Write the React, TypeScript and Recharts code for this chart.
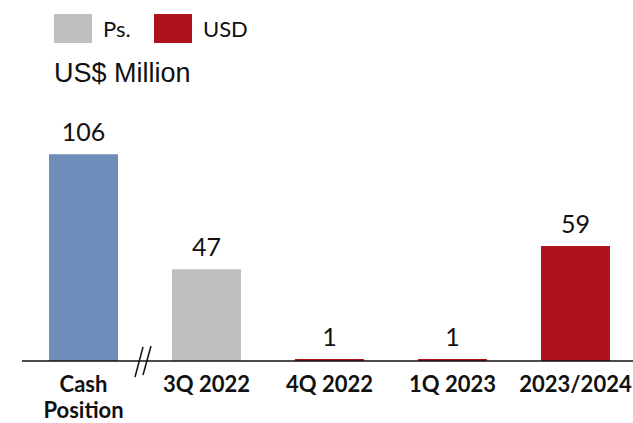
import { BarChart, Bar, XAxis, YAxis, LabelList, Cell } from 'recharts';

const categories = ['Cash Position', '3Q 2022', '4Q 2022', '1Q 2023', '2023/2024'];
const values = [106, 47, 1, 1, 59];
const currency = ['cash', 'ps', 'usd', 'usd', 'usd'];
const legendItems = [
  { name: 'Ps.', color: '#bfbfbf' },
  { name: 'USD', color: '#b0111a' },
];
const unitLabel = 'US$ Million';

const COLORS: Record<string, string> = {
  cash: '#6d8ebb',
  ps: '#bfbfbf',
  usd: '#b0111a',
};
const FONT = 'Lato, "Open Sans", sans-serif';

const chartData = categories.map((name, i) => ({
  name,
  value: values[i],
  currency: currency[i],
}));

const CategoryTick = (props: any) => {
  const { x, y, payload } = props;
  const words: string[] = payload.value === 'Cash Position' ? ['Cash', 'Position'] : [payload.value];
  return (
    <text
      x={x}
      y={y}
      textAnchor="middle"
      fontFamily={FONT}
      fontWeight={700}
      fontSize={22}
      fill="#111"
    >
      {words.map((w, i) => (
        <tspan key={w} x={x} dy={i === 0 ? 23 : 26}>
          {w}
        </tspan>
      ))}
    </text>
  );
};

const TopLabel = (props: any) => {
  const { x, y, width, value } = props;
  return (
    <text
      x={x + width / 2}
      y={y - 13}
      textAnchor="middle"
      fontFamily={FONT}
      fontSize={25}
      fill="#111"
    >
      {value}
    </text>
  );
};

export default function App() {
  return (
    <div
      style={{
        position: 'absolute',
        left: 0,
        top: 0,
        width: 633,
        height: 423,
        overflow: 'hidden',
        background: '#fff',
      }}
    >
      {legendItems.map((item, i) => (
        <div
          key={item.name}
          style={{ position: 'absolute', left: 54 + i * 100, top: 14, display: 'flex', alignItems: 'center' }}
        >
          <div style={{ width: 38, height: 29, background: item.color }} />
          <span style={{ marginLeft: 11, fontFamily: FONT, fontSize: 22, color: '#111' }}>{item.name}</span>
        </div>
      ))}
      <div
        style={{
          position: 'absolute',
          left: 54,
          top: 58,
          fontFamily: '"Liberation Sans", Arial, sans-serif',
          fontSize: 27,
          color: '#111',
        }}
      >
        {unitLabel}
      </div>
      <div style={{ position: 'absolute', left: 0, top: 0 }}>
        <BarChart
          width={637}
          height={423}
          data={chartData}
          margin={{ top: 127, right: 0, bottom: 0, left: 22 }}
        >
          <XAxis
            dataKey="name"
            height={62}
            interval={0}
            tickLine={false}
            axisLine={{ stroke: '#111', strokeWidth: 1.5 }}
            tick={<CategoryTick />}
          />
          <YAxis hide domain={[0, 120]} />
          <Bar dataKey="value" barSize={69} isAnimationActive={false}>
            {chartData.map((d) => (
              <Cell key={d.name} fill={COLORS[d.currency]} />
            ))}
            <LabelList dataKey="value" content={<TopLabel />} />
          </Bar>
        </BarChart>
      </div>
      <svg
        width={633}
        height={423}
        style={{ position: 'absolute', left: 0, top: 0, pointerEvents: 'none' }}
      >
        <line x1={135} y1={377} x2={143} y2={347} stroke="#111" strokeWidth={1.5} />
        <line x1={143} y1={375} x2={151} y2={346} stroke="#111" strokeWidth={1.5} />
      </svg>
    </div>
  );
}
